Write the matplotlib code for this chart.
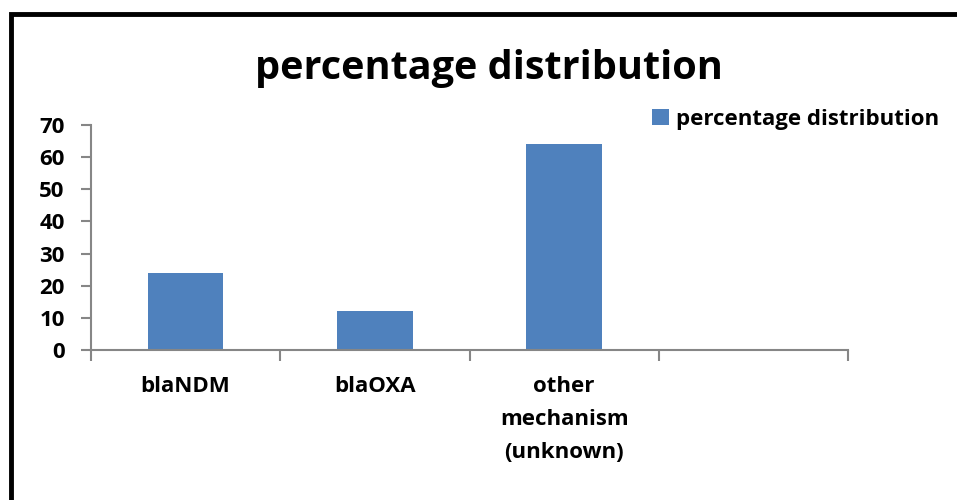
import matplotlib
matplotlib.use("Agg")
import matplotlib.pyplot as plt
import numpy as np
from matplotlib.lines import Line2D

plt.rcParams['font.family'] = ['Open Sans', 'DejaVu Sans']
plt.rcParams['font.weight'] = 'bold'

categories = ["blaNDM", "blaOXA", "other\nmechanism\n(unknown)", ""]
values = [24, 12, 64, np.nan]
series_name = "percentage distribution"
yticks = [0, 10, 20, 30, 40, 50, 60, 70]

bar_color = "#4F81BD"
axis_color = "#868686"

fig = plt.figure(figsize=(9.57, 5.0), dpi=100)
ax = fig.add_axes([91/957, 1-350/500, (848-91)/957, 225/500])

x = np.arange(len(categories)) + 0.5
ax.bar(x, values, width=0.4, color=bar_color, label=series_name, zorder=2)

ax.set_xlim(0, len(categories))
ax.set_ylim(0, 70)

# category labels in the middle, tick marks on the boundaries
ax.set_xticks(x)
ax.set_xticklabels(categories, fontsize=16, fontweight='bold', linespacing=1.75)
ax.set_xticks(np.arange(len(categories) + 1), minor=True)
ax.tick_params(axis='x', which='major', length=0, pad=19)
ax.tick_params(axis='x', which='minor', length=8, width=1.5, color=axis_color, direction='out')

ax.set_yticks(yticks)
ax.set_yticklabels([str(t) for t in yticks], fontsize=16, fontweight='bold')
ax.tick_params(axis='y', length=7, width=1.5, color=axis_color, pad=12)

for side in ['top', 'right']:
    ax.spines[side].set_visible(False)
for side in ['left', 'bottom']:
    ax.spines[side].set_color(axis_color)
    ax.spines[side].set_linewidth(1.5)

fig.text(489/957, 1-68/500, "percentage distribution", fontsize=28.5, fontweight='bold',
         ha='center', va='center')

ax.legend(loc='upper left', bbox_to_anchor=(652/957, 1-109/500), bbox_transform=fig.transFigure,
          frameon=False, handlelength=0.75, handleheight=0.75, handletextpad=0.35,
          borderpad=0, borderaxespad=0, prop={'weight': 'bold', 'size': 16})

# outer frame (left and top edges)
fig.add_artist(Line2D([11/957, 11/957, 1.0], [0.0, 1-14/500, 1-14/500],
                      transform=fig.transFigure, color='black', linewidth=3.5,
                      solid_joinstyle='miter'))

fig.savefig("out.png", dpi=100)
